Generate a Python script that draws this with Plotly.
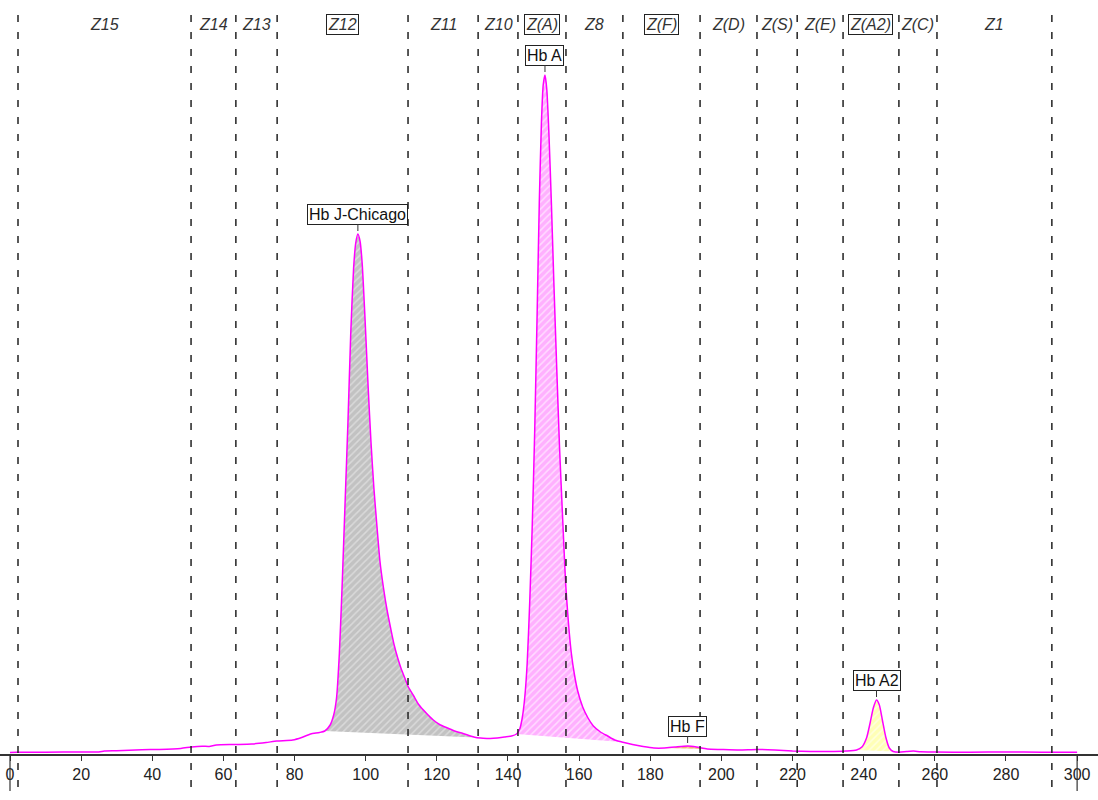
import plotly.graph_objects as go

# ---------------- data ----------------
rt = [0, 2, 10, 20, 25, 26.5, 30, 37, 42, 48, 51, 54, 56, 58, 63, 68, 72, 75, 79.5, 82,
      84.5, 87, 88.5, 90, 91, 91.8, 92.6, 93.4, 94.2, 95, 95.8, 96.6, 97.2, 97.8, 98.4, 99,
      99.8, 100.7, 101.5, 102.3, 103.2, 104, 105, 106, 107, 108, 109, 110, 111, 112, 113.5,
      115, 117, 119, 121, 123, 125, 127, 129, 131, 133, 135, 137, 139, 141, 142.4, 143.3,
      144, 144.7, 145.4, 146.1, 146.8, 147.5, 148.2, 148.8, 149.4, 149.9, 150.4, 150.9,
      151.5, 152.2, 152.9, 153.7, 154.5, 155.3, 156.2, 157, 157.8, 158.7, 159.6, 161,
      162.5, 164, 166, 168, 170, 172, 175, 178, 181, 184, 187, 190.5, 193, 196, 200, 205,
      210, 215, 220, 225, 230, 235, 238, 239.5, 240.8, 241.8, 242.7, 243.6, 244.4, 245.3,
      246.2, 247.2, 248.3, 250, 252, 254, 256, 260, 270, 280, 290, 300]
signal = [0.5, 0.7, 0.8, 1.0, 1.0, 2.0, 2.3, 3.2, 3.6, 4.6, 6.0, 6.8, 6.6, 8.0, 8.5, 9.0, 10.5, 12.0, 13.0, 15.5,
          19.0, 20.5, 22, 28, 38, 55, 100, 170, 250, 330, 420, 485, 510, 519, 512, 490,
          435, 365, 310, 265, 225, 192, 165, 143, 125, 108, 95, 84, 75, 66, 57,
          48, 40, 33, 28, 25, 22, 20, 17.5, 15.5, 14.8, 14.5, 15, 16, 17, 19, 24,
          35, 55, 90, 150, 225, 320, 440, 550, 630, 668, 678, 664,
          620, 550, 470, 385, 305, 240, 170, 130, 100, 78, 62, 46,
          35, 27, 21, 17, 13, 11, 8.5, 6.5, 5.0, 5.0, 6.0, 7.0, 6.0, 4.0, 3.5, 3.0,
          3.5, 3.0, 2.0, 1.5, 1.5, 2.0, 3.0, 6, 15, 30, 45, 53, 48, 32,
          16, 5, 1.5, 0.8, 1.5, 2.0, 1.2, 1.0, 0.8, 1.0, 0.8, 0.8]

zone_bounds = [2.25, 50.9, 63.5, 75.1, 111.9, 131.6, 142.8, 156.3, 172.3, 194.0,
               210.0, 221.3, 234.2, 249.9, 260.6, 292.9]
zone_names = ["Z15", "Z14", "Z13", "Z12", "Z11", "Z10", "Z(A)", "Z8", "Z(F)", "Z(D)",
              "Z(S)", "Z(E)", "Z(A2)", "Z(C)", "Z1"]
zone_boxed = [False, False, False, True, False, False, True, False, True, False,
              False, False, True, False, False]

peak_names = ["Hb J-Chicago", "Hb A", "Hb F", "Hb A2"]
peak_apex = [97.8, 150.4, 190.5, 243.6]
peak_start = [88.5, 142.4, 184, 238]
peak_end = [131, 172, 196, 248.3]
peak_fill = ["#c2c2c2", "#ffb0ff", "#f2b26e", "#ffffb6"]
peak_stripe = ["#dadada", "#ffdcff", "#f8d2a6", "#ffffe0"]

x_ticks = [0, 20, 40, 60, 80, 100, 120, 140, 160, 180, 200, 220, 240, 260, 280, 300]

# ---------------- figure ----------------
fig = go.Figure()

for name, a, s, e, fc, sc in zip(peak_names, peak_apex, peak_start, peak_end, peak_fill, peak_stripe):
    i0 = rt.index(s)
    i1 = rt.index(e)
    # straight baseline of the integrated peak
    fig.add_trace(go.Scatter(x=[s, e], y=[signal[i0], signal[i1]], mode="lines",
                             line=dict(width=0, color="rgba(0,0,0,0)"),
                             hoverinfo="skip", showlegend=False))
    fig.add_trace(go.Scatter(x=rt[i0:i1 + 1], y=signal[i0:i1 + 1], mode="lines",
                             line=dict(width=0, color="rgba(0,0,0,0)", shape="spline", smoothing=0.6),
                             fill="tonexty", fillcolor=fc,
                             fillpattern=dict(shape="/", bgcolor=fc, fgcolor=sc,
                                              size=5, solidity=0.3, fillmode="replace"),
                             hoverinfo="skip", showlegend=False))

fig.add_trace(go.Scatter(x=rt, y=signal, mode="lines",
                         line=dict(color="#ff00ff", width=1.5, shape="spline", smoothing=0.6),
                         showlegend=False, hoverinfo="skip"))

shapes = []
for b in zone_bounds:
    shapes.append(dict(type="line", xref="x", yref="paper", x0=b, x1=b,
                       y0=(754 - 15) / 754, y1=-(791 - 754) / 754,
                       line=dict(color="#222222", width=1.5, dash="7px,10px"), layer="above"))
for t in (x_ticks[0], x_ticks[-1]):
    shapes.append(dict(type="line", xref="x", yref="paper", x0=t, x1=t,
                       y0=0, y1=-(791 - 754) / 754,
                       line=dict(color="#333333", width=1.2)))

annotations = []
for i, name in enumerate(zone_names):
    mid = (zone_bounds[i] + zone_bounds[i + 1]) / 2
    boxed = zone_boxed[i]
    annotations.append(dict(x=mid, y=(754 - 25) / 754, xref="x", yref="paper",
                            text=f"<i>{name}</i>", showarrow=False,
                            font=dict(family="Liberation Sans, Arial", size=16, color="#333333"),
                            bordercolor="#222222" if boxed else "rgba(0,0,0,0)",
                            borderwidth=1 if boxed else 0, borderpad=1,
                            xanchor="center", yanchor="middle"))

for name, a in zip(peak_names, peak_apex):
    h = signal[rt.index(a)]
    annotations.append(dict(x=a, y=h, xref="x", yref="y", text=name,
                            showarrow=True, arrowhead=0, arrowwidth=1, arrowcolor="#333333",
                            ax=0, ay=-20, standoff=3,
                            font=dict(family="Liberation Sans, Arial", size=16, color="#111111"),
                            bordercolor="#222222", borderwidth=1, borderpad=1,
                            bgcolor="white"))

fig.update_layout(
    width=1098, height=800,
    margin=dict(l=0, r=0, t=0, b=46),
    paper_bgcolor="white", plot_bgcolor="white",
    shapes=shapes, annotations=annotations,
    xaxis=dict(range=[-2.81, 305.87], tickvals=x_ticks, ticktext=[str(t) for t in x_ticks],
               showgrid=False, zeroline=False, showline=True, linecolor="#333333", linewidth=1.5,
               ticks="outside", ticklen=5, tickcolor="#333333", tickwidth=1,
               tickfont=dict(family="Liberation Sans, Arial", size=16, color="#222222")),
    yaxis=dict(range=[-1, 753], visible=False, showgrid=False, zeroline=False),
)

fig.write_html("out.html")
